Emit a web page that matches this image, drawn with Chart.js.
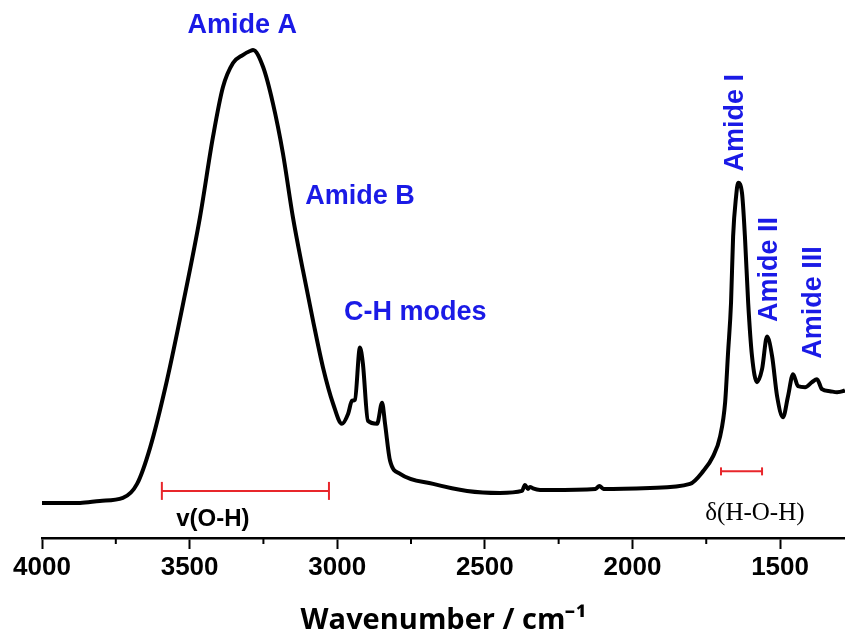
<!DOCTYPE html>
<html>
<head>
<meta charset="utf-8">
<script src="https://cdn.jsdelivr.net/npm/chart.js@4.4.1/dist/chart.umd.min.js"></script>
<style>
  html, body { margin: 0; background: #fff; overflow: hidden; }
  #wrap { width: 845px; height: 644px; position: relative; }
  canvas { display: block; }
</style>
</head>
<body>
<div id="wrap"><canvas id="c"></canvas></div>
<script>
// spectrum (arbitrary absorbance units)
let wavenumber = [4000, 3871, 3804, 3726, 3678, 3634, 3577, 3522, 3465, 3421, 3387, 3353, 3320, 3295, 3285,
  3251, 3218, 3184, 3150, 3116, 3082, 3048, 3014, 2984, 2963, 2950, 2940, 2923, 2913, 2896, 2865, 2848,
  2838, 2821, 2787, 2675, 2560, 2449, 2374, 2364, 2354, 2347, 2337, 2313, 2279, 2125, 2112, 2098, 1940,
  1805, 1761, 1727, 1703, 1686, 1676, 1666, 1659, 1649, 1642, 1629, 1619, 1608, 1595, 1578,
  1561, 1544, 1527, 1510, 1490, 1473, 1456, 1439, 1415, 1392, 1375, 1358, 1331, 1307, 1287, 1280]
let absorbance = [0.070, 0.070, 0.074, 0.080, 0.108, 0.180, 0.314, 0.468, 0.640, 0.800, 0.900, 0.948, 0.964, 0.972, 0.974,
  0.940, 0.868, 0.768, 0.640, 0.534, 0.434, 0.340, 0.268, 0.228, 0.248, 0.274, 0.276, 0.380, 0.348, 0.234, 0.228, 0.270,
  0.228, 0.154, 0.128, 0.108, 0.094, 0.090, 0.094, 0.106, 0.098, 0.102, 0.099, 0.096, 0.096, 0.098, 0.104, 0.098, 0.100,
  0.108, 0.133, 0.163, 0.203, 0.271, 0.371, 0.470, 0.602, 0.681, 0.709, 0.689, 0.602, 0.470, 0.363, 0.311,
  0.337, 0.402, 0.363, 0.283, 0.241, 0.283, 0.327, 0.303, 0.301, 0.311, 0.317, 0.297, 0.293, 0.291, 0.293, 0.295]

// ranges marked with red bars
let ohRange = [3594, 3028]
let ohLevel = 0.094
let hohRange = [1700, 1561]
let hohLevel = 0.133

let majorTicks = [4000, 3500, 3000, 2500, 2000, 1500]
let minorTicks = [3750, 3250, 2750, 2250, 1750]

// band labels: text, wavenumber, level, colour, font, rotated
let bandLabels = [
  ['Amide A', 3322, 1.022, '#1a1ae6', 'bold 27px "Liberation Sans", Arial', false],
  ['Amide B', 2923, 0.681, '#1a1ae6', 'bold 27px "Liberation Sans", Arial', false],
  ['C-H modes', 2736, 0.450, '#1a1ae6', 'bold 27px "Liberation Sans", Arial', false],
  ['Amide I', 1652, 0.829, '#1a1ae6', 'bold 27px "Liberation Sans", Arial', true],
  ['Amide II', 1534, 0.536, '#1a1ae6', 'bold 27px "Liberation Sans", Arial', true],
  ['Amide III', 1388, 0.470, '#1a1ae6', 'bold 27px "Liberation Sans", Arial', true],
  ['v(O-H)', 3421, 0.038, '#000', 'bold 24px "Liberation Sans", Arial', false],
  ['\u03b4(H-O-H)', 1585, 0.050, '#000', '25px "Liberation Serif", "Times New Roman", serif', false]
]

let points = []
for (let i = 0; i < wavenumber.length; i++) {
  points.push({ x: wavenumber[i], y: absorbance[i] })
}

let labelPlugin = {
  id: 'bandLabels',
  afterDatasetsDraw: function (chart) {
    let ctx = chart.ctx
    let xs = chart.scales.x
    let ys = chart.scales.y
    // minor ticks under the axis
    ctx.save()
    ctx.strokeStyle = '#000'
    ctx.lineWidth = 2
    for (let i = 0; i < minorTicks.length; i++) {
      let px = xs.getPixelForValue(minorTicks[i])
      ctx.beginPath()
      ctx.moveTo(px, chart.chartArea.bottom)
      ctx.lineTo(px, chart.chartArea.bottom + 6)
      ctx.stroke()
    }
    ctx.textAlign = 'center'
    ctx.textBaseline = 'middle'
    for (let i = 0; i < bandLabels.length; i++) {
      let l = bandLabels[i]
      let px = xs.getPixelForValue(l[1])
      let py = ys.getPixelForValue(l[2])
      ctx.fillStyle = l[3]
      ctx.font = l[4]
      if (l[5]) {
        ctx.save()
        ctx.translate(px, py)
        ctx.rotate(-Math.PI / 2)
        ctx.fillText(l[0], 0, 0)
        ctx.restore()
      } else {
        ctx.fillText(l[0], px, py)
      }
    }
    ctx.restore()
  }
}

let rangeSet = function (range, level, cap) {
  return {
    data: [{ x: range[0], y: level }, { x: range[1], y: level }],
    borderColor: '#e8262b',
    borderWidth: 2,
    pointStyle: 'line',
    rotation: 90,
    pointRadius: cap,
    pointBorderColor: '#e8262b',
    pointBorderWidth: 2,
    clip: false
  }
}

new Chart(document.getElementById('c'), {
  type: 'line',
  data: {
    datasets: [
      {
        data: points,
        borderColor: '#000',
        borderWidth: 4,
        pointRadius: 0,
        cubicInterpolationMode: 'monotone'
      },
      rangeSet(ohRange, ohLevel, 9),
      rangeSet(hohRange, hohLevel, 4)
    ]
  },
  options: {
    responsive: true,
    maintainAspectRatio: false,
    animation: false,
    layout: { autoPadding: false, padding: { top: 37, left: 42, right: 0, bottom: 0 } },
    plugins: {
      legend: { display: false },
      tooltip: { enabled: false }
    },
    scales: {
      x: {
        type: 'linear',
        reverse: true,
        min: 1280,
        max: 4000,
        afterBuildTicks: function (axis) {
          axis.ticks = majorTicks.map(function (v) { return { value: v } })
        },
        grid: {
          drawOnChartArea: false,
          drawTicks: true,
          tickLength: 11,
          tickColor: '#000',
          tickWidth: 2
        },
        border: { display: true, color: '#000', width: 2.5 },
        ticks: {
          color: '#000',
          padding: 3,
          maxRotation: 0,
          font: { family: '"Liberation Sans", Arial', weight: 'bold', size: 26 },
          callback: function (v) { return v }
        },
        title: {
          display: true,
          text: 'Wavenumber / cm\u207b\u00b9',
          color: '#000',
          font: { family: '"Open Sans", sans-serif', weight: 'bold', size: 29 },
          padding: { top: 17, bottom: 6 }
        }
      },
      y: {
        display: false,
        min: 0,
        max: 1
      }
    }
  },
  plugins: [labelPlugin]
})
</script>
</body>
</html>
